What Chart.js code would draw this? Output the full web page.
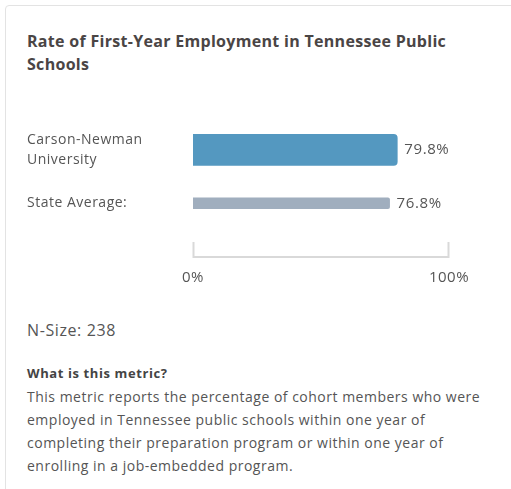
<!DOCTYPE html>
<html>
<head>
<meta charset="utf-8">
<script src="https://cdn.jsdelivr.net/npm/chart.js@4.4.1/dist/chart.umd.min.js"></script>
<style>
  html, body { margin: 0; padding: 0; background: #fff; width: 511px; height: 489px; overflow: hidden; }
  body { position: relative; font-family: "Open Sans", sans-serif; color: #555; }
  .card { position: absolute; left: 5px; top: 5px; width: 540px; height: 520px; border: 1px solid #e3e3e3; border-radius: 4px; box-sizing: border-box; }
  .title { position: absolute; left: 27px; top: 30px; font-size: 16px; font-weight: 700; line-height: 23px; letter-spacing: 0.3px; color: #4a4545; width: 440px; }
  .chart-box { position: absolute; left: 0; top: 110px; width: 511px; height: 190px; }
  .nsize { position: absolute; left: 27px; top: 319px; font-size: 16px; line-height: 22px; letter-spacing: 0.6px; }
  .about { position: absolute; left: 27px; top: 361px; width: 470px; font-size: 14px; line-height: 23px; letter-spacing: 0.5px; }
  .about b { color: #444; font-size: 13px; letter-spacing: 0.6px; }
</style>
</head>
<body>
<div class="card"></div>
<div class="title">Rate of First-Year Employment in Tennessee Public Schools</div>
<div class="chart-box"><canvas id="rateChart"></canvas></div>
<div class="nsize">N-Size: 238</div>
<div class="about">
  <b>What is this metric?</b><br>
  This metric reports the percentage of cohort members who were employed in Tennessee public schools within one year of completing their preparation program or within one year of enrolling in a job-embedded program.
</div>

<script>
const categories = [['Carson-Newman', 'University'], 'State Average:'];
const rates = [79.8, 76.8];
const axisTicks = [0, 100];

const barColors = ['#5498c0', '#a0aebe'];
const barSizes = [31, 11];

// one dataset per row so each bar can have its own thickness
const datasets = rates.map((v, i) => ({
  data: rates.map((_, j) => (j === i ? v : null)),
  backgroundColor: barColors[i],
  barThickness: barSizes[i],
  borderRadius: i === 0 ? 4 : 2,
  borderSkipped: 'start',
  grouped: false
}));

// wider text, closer to the original typeface
const spacing = {
  id: 'spacing',
  beforeUpdate(chart) { chart.ctx.letterSpacing = '0.5px'; },
  beforeDraw(chart) { chart.ctx.letterSpacing = '0.5px'; }
};

const valueLabels = {
  id: 'valueLabels',
  afterDatasetsDraw(chart) {
    const c = chart.ctx;
    c.save();
    c.font = '15px "Open Sans", sans-serif';
    c.letterSpacing = '0.6px';
    c.fillStyle = '#555';
    c.textBaseline = 'middle';
    chart.data.datasets.forEach((ds, i) => {
      const bar = chart.getDatasetMeta(i).data[i];
      c.fillText(rates[i].toFixed(1) + '%', bar.x + 7, bar.y);
    });
    c.restore();
  }
};

// bracket-shaped axis under the bars
const axisBracket = {
  id: 'axisBracket',
  afterDraw(chart) {
    const x = chart.scales.x;
    const c = chart.ctx;
    const x0 = Math.round(x.getPixelForValue(axisTicks[0])) + 0.5;
    const x1 = Math.round(x.getPixelForValue(axisTicks[1])) - 0.5;
    const top = x.top + 12;
    const bottom = x.top + 27;
    c.save();
    c.strokeStyle = '#d9d9d9';
    c.lineWidth = 2;
    c.beginPath();
    c.moveTo(x0, top);
    c.lineTo(x0, bottom);
    c.lineTo(x1, bottom);
    c.lineTo(x1, top);
    c.stroke();
    c.restore();
  }
};

new Chart(document.getElementById('rateChart'), {
  type: 'bar',
  data: { labels: categories, datasets: datasets },
  options: {
    indexAxis: 'y',
    responsive: true,
    maintainAspectRatio: false,
    animation: false,
    layout: { padding: { left: 27, right: 62, top: 9, bottom: 10 } },
    plugins: { legend: { display: false }, tooltip: { enabled: false } },
    scales: {
      y: {
        grid: { display: false },
        border: { display: false },
        afterFit(scale) { scale.width = 166; },
        ticks: {
          crossAlign: 'far',
          color: '#555',
          font: { family: 'Open Sans', size: 14, lineHeight: 1.45 }
        }
      },
      x: {
        min: axisTicks[0],
        max: axisTicks[1],
        grid: { display: false },
        border: { display: false },
        afterFit(scale) { scale.height = 60; },
        afterBuildTicks(scale) { scale.ticks = axisTicks.map(v => ({ value: v })); },
        ticks: {
          padding: 31,
          color: '#555',
          font: { family: 'Open Sans', size: 15 },
          maxRotation: 0,
          callback: v => v + '%'
        }
      }
    }
  },
  plugins: [spacing, valueLabels, axisBracket]
});
</script>
</body>
</html>
